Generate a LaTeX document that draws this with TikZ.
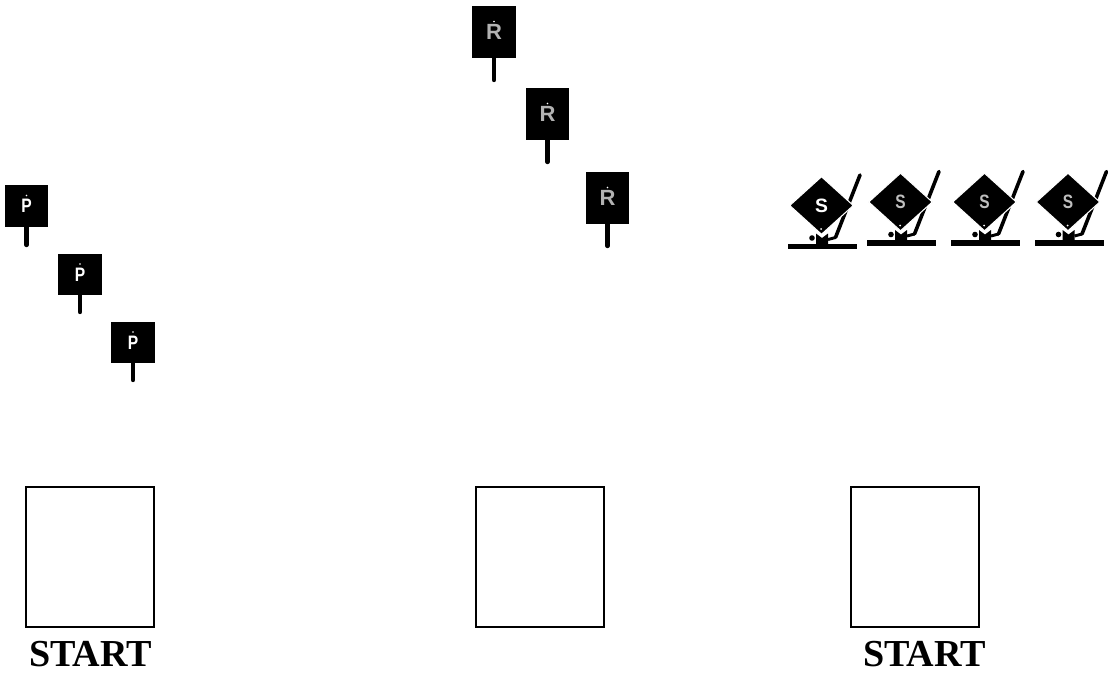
\documentclass[tikz,border=0pt]{standalone}
\usepackage{fontspec}
\setmainfont{Liberation Serif}
\newfontfamily\signfont[FakeStretch=0.8]{Liberation Sans}
\newfontfamily\golffont{Liberation Sans}
\usetikzlibrary{shapes.geometric}
\tikzset{
  x=0.75pt,y=-0.75pt,
  signbox/.style={rectangle,fill=black,draw=none,inner sep=0pt,minimum width=32.5pt,text=white,font=\signfont\bfseries\fontsize{14.6}{15}\selectfont},
  pbox/.style={signbox,minimum height=31pt},
  rbox/.style={signbox,minimum height=39pt,text=black!30,font=\golffont\bfseries\fontsize{16.5}{17}\selectfont},
  stick/.style={line width=3.3pt,line cap=round,draw=black},
  signdot/.style={fill=white,draw=none},
  startbox/.style={rectangle,draw=black,line width=0.9pt,fill=white,minimum width=96pt,minimum height=105pt,inner sep=0pt},
  startlabel/.style={font=\bfseries\fontsize{28.6}{30}\selectfont,anchor=base,inner sep=0pt},
  golfdiamond/.style={diamond,fill=black,draw=white,line width=0.8pt,inner sep=0pt,minimum width=48pt,minimum height=43.5pt,aspect=1.07},
  firstletter/.style={text=white,font=\golffont\bfseries\fontsize{14.5}{15}\selectfont},
  fadedletter/.style={text=black!25,font=\signfont\bfseries\fontsize{14.5}{15}\selectfont},
  golfhandle/.style={line width=2.7pt,line cap=round,draw=black},
  golffoot/.style={line width=2.2pt,draw=black},
  golfbase/.style={fill=black,draw=none}
}
% #1 name, #2 x, #3 y, #4 style, #5 letter, #6 stick end y
\newcommand\signpost[6]{%
  \node[#4] (#1) at (#2,#3) {#5};
  \coordinate (#1end) at (#2,#6);
  \draw[stick] (#1.south) -- (#1end);
  \fill[signdot] (#1.center) ++(0,-10.5) circle (0.8);
}
% #1 name, #2 x, #3 y, #4 letter style
\newcommand\golfer[4]{%
  \begin{scope}[shift={(#2,#3)}]
    \coordinate (#1top) at (38.5,-30.5);
    \coordinate (#1heel) at (14,32);
    \coordinate (#1toe) at (6.5,34);
    \draw[golfhandle] (#1top) -- (#1heel);
    \draw[golffoot] (#1heel) -- (#1toe);
    \fill[golfbase] (-33.5,38) rectangle (35.5,43.5);
    \fill[golfbase] (-5.5,28) -- (0.5,32.5) -- (6.5,28) -- (6.5,39) -- (-5.5,39) -- cycle;
    \fill[golfbase] (-9.5,32.5) circle (2.8);
    \node[golfdiamond,#4] (#1) at (0,0) {S};
    \fill[signdot] (-0.5,23.5) circle (1);
  \end{scope}
}
\begin{document}
\begin{tikzpicture}
\useasboundingbox (0,0) rectangle (1108,672);
\signpost{pa}{26.5}{206}{pbox}{P}{245}
\signpost{pb}{80}{274.5}{pbox}{P}{312}
\signpost{pc}{133}{342.5}{pbox}{P}{380}
\signpost{ra}{494}{32}{rbox}{R}{80}
\signpost{rb}{547.5}{114}{rbox}{R}{162}
\signpost{rc}{607.5}{198}{rbox}{R}{246}
\golfer{ga}{821.5}{205.5}{firstletter}
\golfer{gb}{900.5}{202}{fadedletter}
\golfer{gc}{984.5}{202}{fadedletter}
\golfer{gd}{1068}{202}{fadedletter}
\node[startbox] (sa) at (90,557) {};
\node[startbox] (sb) at (540,557) {};
\node[startbox] (sc) at (915,557) {};
\node[startlabel] (la) at (90.5,666) {START};
\node[startlabel] (lc) at (924.5,666) {START};
\end{tikzpicture}
\end{document}
